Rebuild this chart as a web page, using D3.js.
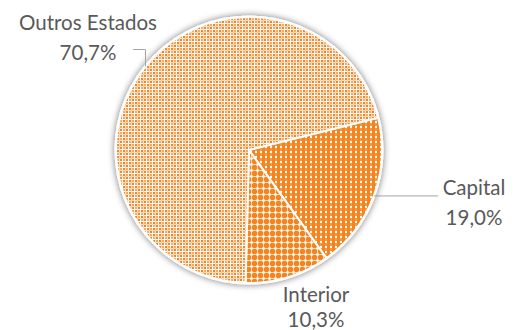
<!DOCTYPE html>
<html>
<head>
<meta charset="utf-8">
<script src="https://cdn.jsdelivr.net/npm/d3@7"></script>
<style>
  html, body { margin: 0; padding: 0; background: #fff; }
  svg { display: block; }
</style>
</head>
<body>
<svg id="chart" width="513" height="330"></svg>
<script>
// Share of the total by region, in drawing order (clockwise from the start angle)
const categories = ["Capital", "Interior", "Outros Estados"];
const values = [19.0, 10.3, 70.7];
const valueLabels = ["19,0%", "10,3%", "70,7%"];

const cx = 249, cy = 150, R = 133;
const orange = "#F5841F";
const startAngle = 76 * Math.PI / 180;

const svg = d3.select("#chart");
const defs = svg.append("defs");

// Soft shadow around the pie
const f = defs.append("filter").attr("id", "shadow")
  .attr("x", "-20%").attr("y", "-20%").attr("width", "140%").attr("height", "140%");
f.append("feGaussianBlur").attr("in", "SourceAlpha").attr("stdDeviation", 3.5).attr("result", "b");
f.append("feComponentTransfer").attr("in", "b").attr("result", "s")
  .append("feFuncA").attr("type", "linear").attr("slope", 0.55);
const m = f.append("feMerge");
m.append("feMergeNode").attr("in", "s");
m.append("feMergeNode").attr("in", "SourceGraphic");

// Pattern fills, one per slice
function pattern(id, size, draw) {
  const p = defs.append("pattern").attr("id", id)
    .attr("patternUnits", "userSpaceOnUse")
    .attr("width", size).attr("height", size);
  p.append("rect").attr("width", size).attr("height", size).attr("fill", "#fff");
  draw(p);
}
function sq(p, x, y, w, h, fill, op) {
  p.append("rect").attr("x", x).attr("y", y).attr("width", w).attr("height", h)
    .attr("fill", fill).attr("opacity", op == null ? 1 : op);
}
// Capital: dense orange with small white dots
pattern("pCapital", 5, p => {
  sq(p, 0, 0, 5, 5, orange);
  sq(p, 1, 1, 2, 2, "#fff");
  sq(p, 1.5, 0, 1, 5, "#fff", 0.3);
});
// Interior: orange with white crosses
pattern("pInterior", 6, p => {
  sq(p, 0, 0, 6, 6, orange);
  sq(p, 0, 2, 6, 1, "#fff", 0.7);
  sq(p, 2, 0, 1, 6, "#fff", 0.7);
  sq(p, 1, 1, 3, 3, "#fff", 0.5);
});
// Outros Estados: open lattice of orange squares on white
pattern("pOutros", 6, p => {
  sq(p, 0, 0, 2, 2, orange);
  sq(p, 3, 3, 2, 2, orange);
  sq(p, 3, 0, 2, 2, orange, 0.7);
  sq(p, 0, 3, 2, 2, orange, 0.7);
  sq(p, 2, 0, 1, 6, orange, 0.25);
  sq(p, 0, 2, 6, 1, orange, 0.25);
});
const fills = ["url(#pCapital)", "url(#pInterior)", "url(#pOutros)"];

const pie = d3.pie().sort(null).value(d => d)
  .startAngle(startAngle).endAngle(startAngle + 2 * Math.PI);
const arcs = pie(values);
const arc = d3.arc().innerRadius(0).outerRadius(R);

const g = svg.append("g").attr("transform", `translate(${cx},${cy})`);
g.append("circle").attr("r", R + 1.5).attr("fill", "#fff").attr("filter", "url(#shadow)");
g.selectAll("path.slice").data(arcs).enter().append("path")
  .attr("class", "slice")
  .attr("d", arc)
  .attr("fill", (d, i) => fills[i])
  .attr("stroke", "#fff").attr("stroke-width", 2).attr("stroke-linejoin", "round");

// Labels
const font = "Lato, 'Open Sans', sans-serif";
const textColor = "#595959";
const labelPos = [
  { x: 474, y1: 195, y2: 225 },
  { x: 316, y1: 302, y2: 327 },
  { x: 88, y1: 30, y2: 60 }
];
const lg = svg.append("g").attr("font-family", font).attr("font-size", 20.5)
  .attr("fill", textColor).attr("text-anchor", "middle");
arcs.forEach((d, i) => {
  const p = labelPos[i];
  lg.append("text").attr("x", p.x).attr("y", p.y1).text(categories[i]);
  lg.append("text").attr("x", p.x).attr("y", p.y2).text(valueLabels[i]);
});

// Leader lines for the two outer labels
const lineColor = "#a6a6a6";
const capMid = (arcs[0].startAngle + arcs[0].endAngle) / 2;
const ce = [cx + R * Math.sin(capMid), cy - R * Math.cos(capMid)];
svg.append("polyline")
  .attr("points", [[ce[0], ce[1]], [438, ce[1]]].map(p => p.join(",")).join(" "))
  .attr("fill", "none").attr("stroke", lineColor).attr("stroke-width", 1);
// Hook from the "Outros Estados" label down to the rim
const hookX = 145.5;
const hookY = cy - Math.sqrt(R * R - (cx - hookX) ** 2);
svg.append("polyline")
  .attr("points", [[133, 49.5], [hookX, 49.5], [hookX, hookY]].map(p => p.join(",")).join(" "))
  .attr("fill", "none").attr("stroke", lineColor).attr("stroke-width", 1);
</script>
</body>
</html>
